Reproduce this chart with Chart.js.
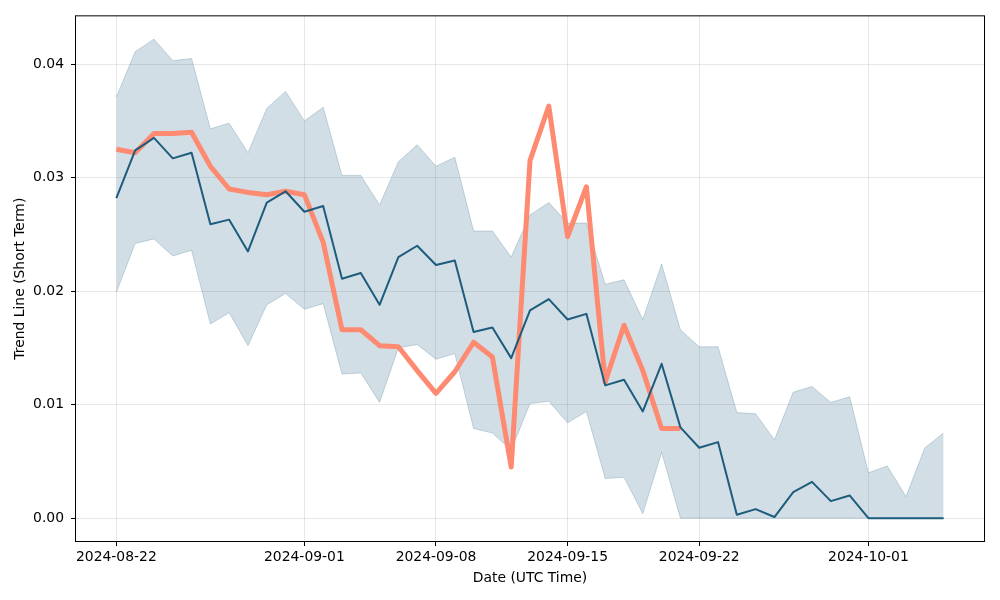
<!DOCTYPE html>
<html>
<head>
<meta charset="utf-8">
<script src="https://cdn.jsdelivr.net/npm/chart.js@4.4.0/dist/chart.umd.min.js"></script>
<style>
  html, body { margin: 0; padding: 0; background: #fff; }
  #wrap { width: 1000px; height: 600px; }
</style>
</head>
<body>
<div id="wrap"><canvas id="chart" width="1000" height="600"></canvas></div>
<script>
// daily dates, 2024-08-22 .. 2024-10-05
const dates = [
  "2024-08-22","2024-08-23","2024-08-24","2024-08-25","2024-08-26","2024-08-27","2024-08-28","2024-08-29","2024-08-30","2024-08-31",
  "2024-09-01","2024-09-02","2024-09-03","2024-09-04","2024-09-05","2024-09-06","2024-09-07","2024-09-08","2024-09-09","2024-09-10",
  "2024-09-11","2024-09-12","2024-09-13","2024-09-14","2024-09-15","2024-09-16","2024-09-17","2024-09-18","2024-09-19","2024-09-20",
  "2024-09-21","2024-09-22","2024-09-23","2024-09-24","2024-09-25","2024-09-26","2024-09-27","2024-09-28","2024-09-29","2024-09-30",
  "2024-10-01","2024-10-02","2024-10-03","2024-10-04","2024-10-05"
];

const trend = [
  0.0282,0.0324,0.0335,0.0317,0.0322,0.0259,0.0263,0.0235,0.0278,0.0288,
  0.0270,0.0275,0.0211,0.0216,0.0188,0.0230,0.0240,0.0223,0.0227,0.0164,
  0.0168,0.0141,0.0183,0.0193,0.0175,0.0180,0.0117,0.0122,0.0094,0.0136,
  0.0080,0.0062,0.0067,0.0003,0.0008,0.0001,0.0023,0.0032,0.0015,0.0020,
  0,0,0,0,0
];

const upper = [
  0.0371,0.0411,0.0422,0.0403,0.0405,0.0343,0.0348,0.0322,0.0361,0.0376,
  0.0350,0.0362,0.0302,0.0302,0.0276,0.0314,0.0329,0.0310,0.0318,0.0253,
  0.0253,0.0230,0.0267,0.0278,0.0260,0.0260,0.0206,0.0210,0.0175,0.0224,
  0.0166,0.0151,0.0151,0.0093,0.0092,0.0069,0.0111,0.0116,0.0102,0.0107,
  0.0040,0.0046,0.0019,0.0062,0.0075
];

const lower = [
  0.0199,0.0242,0.0246,0.0231,0.0236,0.0171,0.0181,0.0152,0.0188,0.0198,
  0.0184,0.0189,0.0127,0.0128,0.0102,0.0150,0.0153,0.0140,0.0145,0.0079,
  0.0075,0.0060,0.0101,0.0103,0.0084,0.0094,0.0035,0.0036,0.0004,0.0058,
  0,0,0,0,0,0,0,0,0,0,
  0,0,0,0,0
];

// actual values, 2024-08-22 .. 2024-09-21
const actual = [
  0.0325,0.0322,0.0339,0.0339,0.0340,0.0310,0.0290,0.0287,0.0285,0.0288,
  0.0285,0.0243,0.0166,0.0166,0.0152,0.0151,0.0130,0.0110,0.0129,0.0155,
  0.0142,0.0045,0.0315,0.0363,0.0248,0.0292,0.0120,0.0170,0.0130,0.0079,
  0.0079
];

const xTickLabels = ["2024-08-22","2024-09-01","2024-09-08","2024-09-15","2024-09-22","2024-10-01"];
const yTicks = [0, 0.01, 0.02, 0.03, 0.04];

const DAY = 86400000;
const t0 = Date.parse(dates[0]);
const dayOf = d => (Date.parse(d) - t0) / DAY;
const pts = arr => arr.map((v, i) => ({ x: dayOf(dates[i]), y: v }));

const FONT = "'DejaVu Sans', sans-serif";
const FS = 13.9;
const BLUE = "#1d5c7c";
const GRID = "rgba(0,0,0,0.09)";

const frame = {
  id: "frame",
  afterDraw(chart) {
    const { ctx, chartArea: a } = chart;
    ctx.save();
    ctx.strokeStyle = "#000";
    ctx.lineWidth = 1;
    ctx.strokeRect(a.left + 0.5, a.top + 0.5, a.right - a.left - 1, a.bottom - a.top - 1);
    ctx.restore();
  }
};

new Chart(document.getElementById("chart"), {
  type: "line",
  data: {
    datasets: [
      {
        label: "Trend",
        data: pts(trend),
        borderColor: BLUE,
        borderWidth: 2,
        borderJoinStyle: "round",
        pointRadius: 0,
        fill: false,
        order: 0
      },
      {
        label: "Actual",
        data: pts(actual),
        borderColor: "#fd8a71",
        borderWidth: 5,
        borderJoinStyle: "round",
        pointRadius: 0,
        fill: false,
        order: 1
      },
      {
        label: "Lower",
        data: pts(lower),
        borderColor: "rgba(29,92,124,0.22)",
        borderWidth: 1,
        pointRadius: 0,
        fill: false,
        order: 3
      },
      {
        label: "Upper",
        data: pts(upper),
        borderColor: "rgba(29,92,124,0.22)",
        backgroundColor: "rgba(29,92,124,0.2)",
        borderWidth: 1,
        pointRadius: 0,
        fill: "-1",
        order: 2
      }
    ]
  },
  options: {
    responsive: false,
    animation: false,
    events: [],
    layout: { padding: { top: 15, right: 15, left: 0, bottom: 0 } },
    plugins: { legend: { display: false }, tooltip: { enabled: false } },
    scales: {
      x: {
        type: "linear",
        min: -2.2,
        max: 46.2,
        afterFit(s) { s.height = 58; },
        afterBuildTicks(s) { s.ticks = xTickLabels.map(d => ({ value: dayOf(d) })); },
        ticks: {
          color: "#000",
          font: { family: FONT, size: FS },
          padding: 3,
          maxRotation: 0,
          autoSkip: false,
          callback: v => xTickLabels.find(d => dayOf(d) === v) || ""
        },
        grid: { color: GRID, tickColor: "#000", tickLength: 4 },
        border: { display: false },
        title: {
          display: true,
          text: "Date (UTC Time)",
          color: "#000",
          font: { family: FONT, size: FS },
          padding: { top: 0, bottom: 13 }
        }
      },
      y: {
        type: "linear",
        min: -0.0021,
        max: 0.0443,
        afterFit(s) { s.width = 75; },
        afterBuildTicks(s) { s.ticks = yTicks.map(v => ({ value: v })); },
        ticks: {
          color: "#000",
          font: { family: FONT, size: FS },
          padding: 7,
          callback: v => v.toFixed(2)
        },
        grid: { color: GRID, tickColor: "#000", tickLength: 4 },
        border: { display: false },
        title: {
          display: true,
          text: "Trend Line (Short Term)",
          color: "#000",
          font: { family: FONT, size: FS },
          padding: { top: 12, bottom: 0 }
        }
      }
    }
  },
  plugins: [frame]
});
</script>
</body>
</html>
